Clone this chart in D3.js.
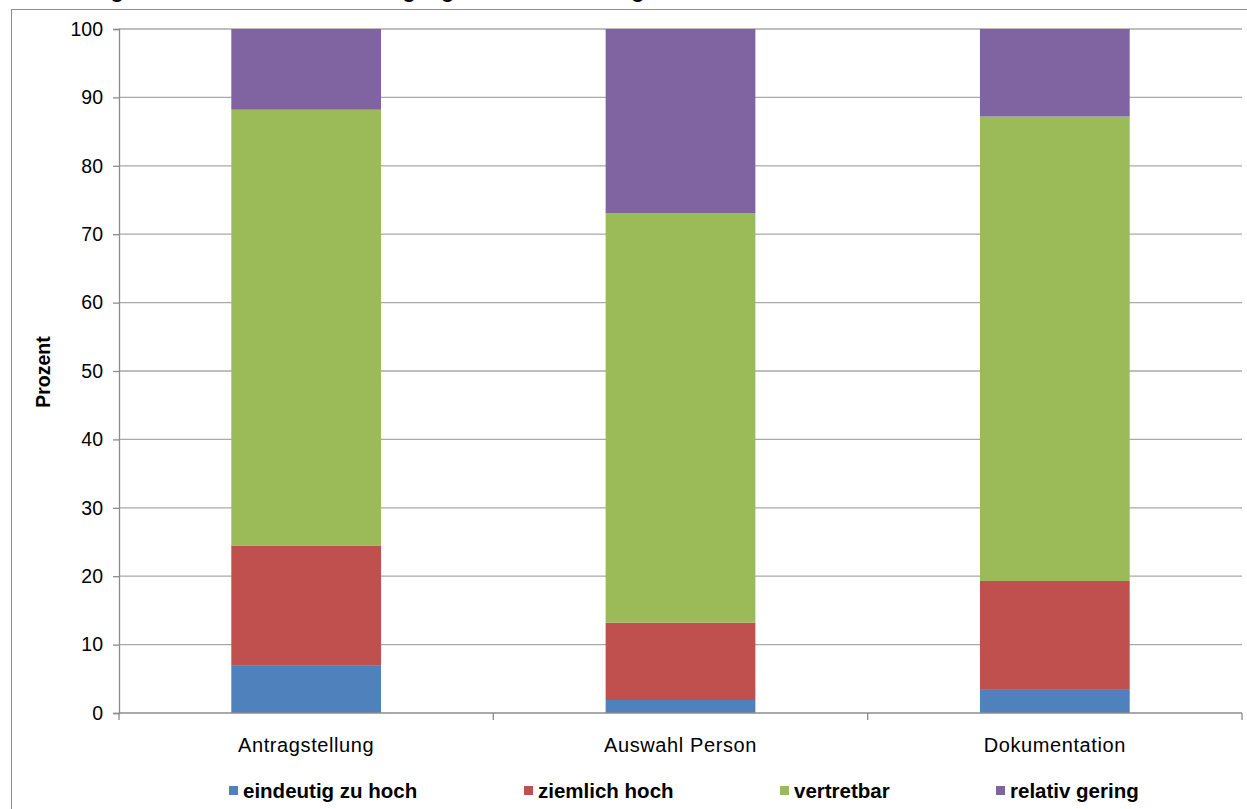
<!DOCTYPE html>
<html>
<head>
<meta charset="utf-8">
<script src="https://cdn.jsdelivr.net/npm/d3@7"></script>
<style>
  html, body { margin: 0; padding: 0; background: #fff; }
  svg { display: block; font-family: "Liberation Sans", Arial, sans-serif; }
</style>
</head>
<body>
<div id="container"></div>
<script>
// categories and series (percent, stacked to 100)
const categories = ["Antragstellung", "Auswahl Person", "Dokumentation"];
const seriesNames = ["eindeutig zu hoch", "ziemlich hoch", "vertretbar", "relativ gering"];
const seriesColors = ["#4F81BD", "#C0504D", "#9BBB59", "#8064A2"];
const eindeutigZuHoch = [7.0, 1.9, 3.5];
const ziemlichHoch = [17.5, 11.3, 15.8];
const vertretbar = [63.7, 59.9, 67.9];
const relativGering = [11.8, 26.9, 12.8];
const yTicks = [0, 10, 20, 30, 40, 50, 60, 70, 80, 90, 100];
const titleText = "Bewertung des Aufwandes bei Beantragung und Durchführung";

const width = 1247, height = 809;
const plot = { left: 119, right: 1242, top: 29, bottom: 713 };

const rows = categories.map((c, i) => ({
  cat: c,
  "eindeutig zu hoch": eindeutigZuHoch[i],
  "ziemlich hoch": ziemlichHoch[i],
  "vertretbar": vertretbar[i],
  "relativ gering": relativGering[i]
}));
const stacked = d3.stack().keys(seriesNames)(rows);

const x = d3.scaleBand()
  .domain(categories)
  .range([plot.left, plot.right])
  .paddingInner(0.6)
  .paddingOuter(0.3);

const y = d3.scaleLinear().domain([0, 100]).range([plot.bottom, plot.top]);
const color = d3.scaleOrdinal().domain(seriesNames).range(seriesColors);

const svg = d3.create("svg")
  .attr("width", width)
  .attr("height", height)
  .attr("viewBox", [0, 0, width, height]);

// title - the reference shows only its descenders at the top edge
svg.append("text")
  .attr("x", 15)
  .attr("y", -2)
  .attr("font-size", 21)
  .attr("font-weight", "bold")
  .attr("fill", "#000")
  .text(titleText);

// outer frame
svg.append("rect")
  .attr("x", 11.5).attr("y", 9.5)
  .attr("width", 1260).attr("height", 820)
  .attr("fill", "none")
  .attr("stroke", "#8c8c8c")
  .attr("stroke-width", 1);

// gridlines
svg.append("g")
  .selectAll("line")
  .data(yTicks.filter(t => t > 0))
  .join("line")
  .attr("x1", plot.left).attr("x2", plot.right)
  .attr("y1", d => y(d)).attr("y2", d => y(d))
  .attr("stroke", "#a9a9a9")
  .attr("stroke-width", 1.3);

// bars
svg.append("g")
  .selectAll("g")
  .data(stacked)
  .join("g")
  .attr("fill", d => color(d.key))
  .selectAll("rect")
  .data(d => d)
  .join("rect")
  .attr("x", d => x(d.data.cat))
  .attr("width", x.bandwidth())
  .attr("y", d => y(d[1]))
  .attr("height", d => y(d[0]) - y(d[1]));

// y axis
const yAxis = svg.append("g")
  .attr("transform", `translate(${plot.left},0)`)
  .call(d3.axisLeft(y).tickValues(yTicks).tickSize(6).tickPadding(10).tickFormat(d3.format("d")));
yAxis.select(".domain").attr("stroke", "#8c8c8c").attr("stroke-width", 1.3);
yAxis.selectAll(".tick line").attr("stroke", "#8c8c8c").attr("stroke-width", 1.3);
yAxis.selectAll(".tick text")
  .attr("font-size", 19.5)
  .attr("font-family", "Liberation Sans, Arial, sans-serif")
  .attr("fill", "#000");

// x axis line and tick marks at band boundaries
const xAxisG = svg.append("g");
xAxisG.append("line")
  .attr("x1", plot.left).attr("x2", plot.right)
  .attr("y1", plot.bottom).attr("y2", plot.bottom)
  .attr("stroke", "#8c8c8c")
  .attr("stroke-width", 1.3);
const boundaries = [plot.left].concat(categories.map(c => x(c) - x.step() * 0.3 + x.step()));
xAxisG.selectAll("line.tk")
  .data(boundaries)
  .join("line")
  .attr("class", "tk")
  .attr("x1", d => d).attr("x2", d => d)
  .attr("y1", plot.bottom).attr("y2", plot.bottom + 7)
  .attr("stroke", "#8c8c8c")
  .attr("stroke-width", 1.3);
xAxisG.selectAll("text")
  .data(categories)
  .join("text")
  .attr("x", d => x(d) + x.bandwidth() / 2)
  .attr("y", 752)
  .attr("text-anchor", "middle")
  .attr("font-size", 20)
  .attr("letter-spacing", 0.6)
  .attr("fill", "#000")
  .text(d => d);

// y axis title
svg.append("text")
  .attr("transform", "translate(50,372) rotate(-90)")
  .attr("text-anchor", "middle")
  .attr("font-size", 19.5)
  .attr("font-weight", "bold")
  .attr("fill", "#000")
  .text("Prozent");

// legend
const legendX = [229, 524, 780, 996];
const legend = svg.append("g")
  .selectAll("g")
  .data(seriesNames)
  .join("g")
  .attr("transform", (d, i) => `translate(${legendX[i]},791)`);
legend.append("rect")
  .attr("x", 0).attr("y", -5)
  .attr("width", 9).attr("height", 9)
  .attr("fill", d => color(d));
legend.append("text")
  .attr("x", 14)
  .attr("y", 7)
  .attr("font-size", 20.5)
  .attr("font-weight", "bold")
  .attr("fill", "#000")
  .text(d => d);

document.getElementById("container").append(svg.node());
</script>
</body>
</html>
